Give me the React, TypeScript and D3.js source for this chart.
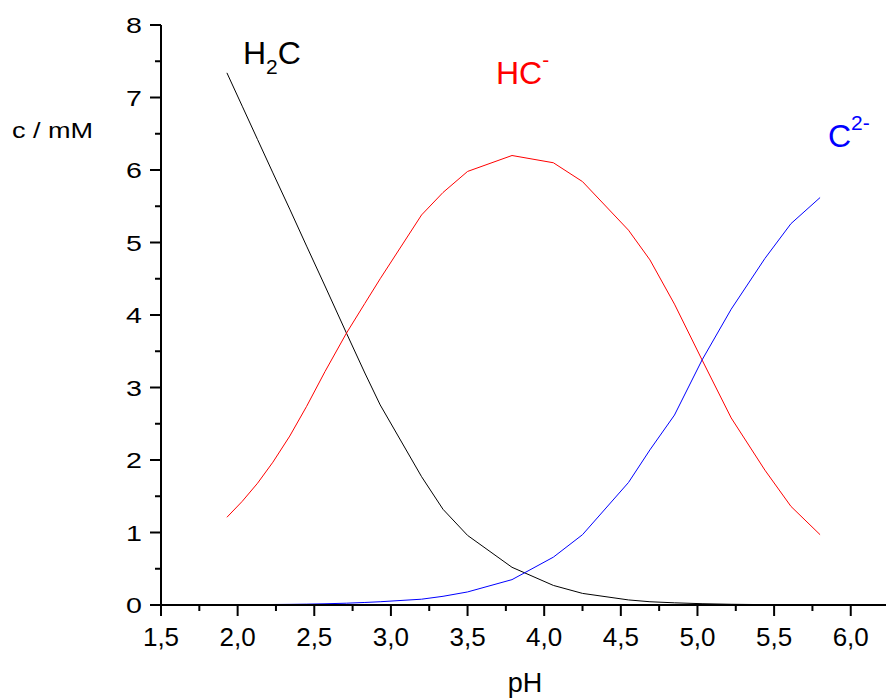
import React from "react";
import * as d3 from "d3";

const pH = [1.93, 2.03, 2.13, 2.23, 2.34, 2.45, 2.57, 2.71, 2.83, 2.93, 3.20, 3.34, 3.50, 3.79, 4.06, 4.25, 4.55, 4.69, 4.85, 5.03, 5.22, 5.44, 5.61, 5.80];
const h2c = [7.34, 6.88, 6.42, 5.96, 5.46, 4.95, 4.40, 3.75, 3.20, 2.76, 1.77, 1.32, 0.96, 0.52, 0.27, 0.16, 0.07, 0.045, 0.03, 0.018, 0.01, 0.005, 0.003, 0.002];
const hc = [1.21, 1.43, 1.68, 1.97, 2.33, 2.74, 3.22, 3.75, 4.16, 4.50, 5.38, 5.69, 5.98, 6.20, 6.10, 5.84, 5.17, 4.76, 4.15, 3.38, 2.58, 1.86, 1.36, 0.97];
const c2 = [0.003, 0.004, 0.005, 0.007, 0.009, 0.012, 0.017, 0.025, 0.035, 0.045, 0.08, 0.12, 0.18, 0.35, 0.66, 0.97, 1.69, 2.14, 2.62, 3.38, 4.08, 4.78, 5.26, 5.62];

const xMajor = [1.5, 2.0, 2.5, 3.0, 3.5, 4.0, 4.5, 5.0, 5.5, 6.0];
const xMinor = [1.75, 2.25, 2.75, 3.25, 3.75, 4.25, 4.75, 5.25, 5.75];
const yMajor = [0, 1, 2, 3, 4, 5, 6, 7, 8];
const yMinor = [0.5, 1.5, 2.5, 3.5, 4.5, 5.5, 6.5, 7.5];

const W = 886;
const H = 698;
const FONT = "'Liberation Sans', Arial, sans-serif";

export default function App() {
  const x = d3.scaleLinear().domain([1.5, 6.23]).range([161, 886]);
  const y = d3.scaleLinear().domain([0, 8]).range([605, 25]);
  const mk = (vals: number[]) =>
    d3
      .line<number>()
      .x((_, i) => x(pH[i]))
      .y((v) => y(v))(vals) || "";
  const fmt = (v: number) => v.toFixed(1).replace(".", ",");

  return (
    <svg
      width={W}
      height={H}
      style={{ position: "absolute", left: 0, top: 0, background: "#fff" }}
      fontFamily={FONT}
    >
      <rect x={0} y={0} width={W} height={H} fill="#fff" />
      {/* curves */}
      <path d={mk(h2c)} fill="none" stroke="#000" strokeWidth={1} />
      <path d={mk(hc)} fill="none" stroke="#ff0000" strokeWidth={1} />
      <path d={mk(c2)} fill="none" stroke="#0000ff" strokeWidth={1} />

      {/* y axis */}
      <line x1={x(1.5)} x2={x(1.5)} y1={y(8)} y2={y(0)} stroke="#000" strokeWidth={2} />
      {yMajor.map((v) => (
        <g key={"ym" + v}>
          <line x1={x(1.5) - 11} x2={x(1.5)} y1={y(v)} y2={y(v)} stroke="#000" strokeWidth={2} />
          <text
            transform={`translate(142,${y(v) + 8}) scale(1.3,1)`}
            textAnchor="end"
            fontSize={22}
          >
            {v}
          </text>
        </g>
      ))}
      {yMinor.map((v) => (
        <line key={"yn" + v} x1={x(1.5) - 6} x2={x(1.5)} y1={y(v)} y2={y(v)} stroke="#000" strokeWidth={2} />
      ))}

      {/* x axis */}
      <line x1={x(1.5)} x2={x(6.23)} y1={y(0)} y2={y(0)} stroke="#000" strokeWidth={2} />
      {xMajor.map((v) => (
        <g key={"xm" + v}>
          <line x1={x(v)} x2={x(v)} y1={y(0)} y2={y(0) + 11} stroke="#000" strokeWidth={2} />
          <text x={x(v)} y={646} textAnchor="middle" fontSize={26}>
            {fmt(v)}
          </text>
        </g>
      ))}
      {xMinor.map((v) => (
        <line key={"xn" + v} x1={x(v)} x2={x(v)} y1={y(0)} y2={y(0) + 6} stroke="#000" strokeWidth={2} />
      ))}

      {/* axis titles */}
      <text x={525} y={692} textAnchor="middle" fontSize={27}>
        pH
      </text>
      <text transform="translate(12,138) scale(1.23,1)" fontSize={22}>
        c / mM
      </text>

      {/* species labels */}
      <text x={243} y={64} fontSize={32} fill="#000">
        H
        <tspan fontSize={21} dy={10}>2</tspan>
        <tspan fontSize={32} dy={-10}>C</tspan>
      </text>
      <text x={496} y={84} fontSize={32} fill="#ff0000">
        HC
        <tspan fontSize={21} dy={-17}>-</tspan>
      </text>
      <text x={828} y={147} fontSize={32} fill="#0000ff">
        C
        <tspan fontSize={21} dy={-17}>2-</tspan>
      </text>
    </svg>
  );
}
